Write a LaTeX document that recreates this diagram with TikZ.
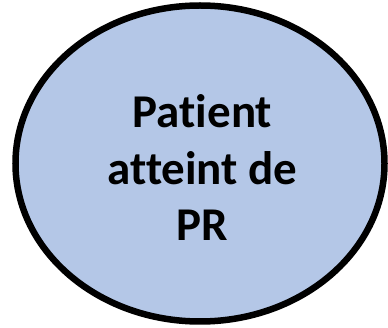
\documentclass[tikz,border=0pt]{standalone}
\usepackage{fontspec}
\setmainfont{Carlito}[Ligatures=NoCommon]
\usetikzlibrary{shapes.geometric}
\definecolor{fillblue}{HTML}{B4C7E7}
\tikzset{bubble/.style={ellipse, draw=black, line width=6.5pt, fill=fillblue, inner sep=0pt},
  label text/.style={align=center, font=\bfseries\fontsize{47}{56.5}\selectfont, inner sep=0pt}}
\begin{document}
\begin{tikzpicture}[x=1pt,y=-1pt]
\useasboundingbox (0,0) rectangle (388,328);
\node[bubble, minimum width=369pt, minimum height=316pt] (e) at (200,163.5) {};
\node[label text] (t) at (202.5,168) {Patient\\atteint de\\PR};
\end{tikzpicture}
\end{document}
